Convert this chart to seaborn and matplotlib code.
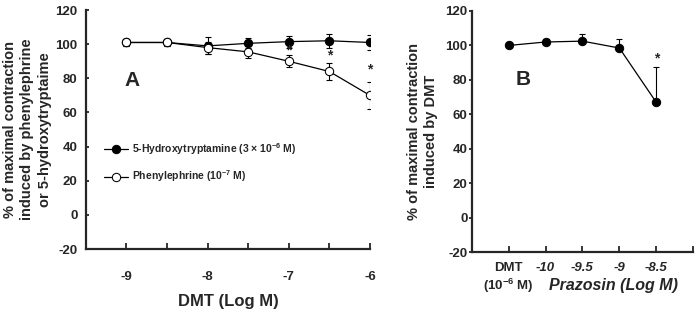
import matplotlib
matplotlib.use('Agg')
import matplotlib.pyplot as plt
import pandas as pd
import seaborn as sns

# Panel A: DMT concentration-response on pre-contracted tissue
log_dmt = [-9, -8.5, -8, -7.5, -7, -6.5, -6]
ht_mean = [101, 101, 99, 100.5, 101.5, 102, 101]
ht_err = [2, 2, 5, 3, 3.5, 4, 4.5]
phe_mean = [101, 101, 98, 95.5, 90, 84, 70]
phe_err = [2, 2, 3.5, 3.5, 3.5, 5, 8]
star_a_x = [-7, -6.5, -6]
star_a_y = [96.5, 93.5, 85]

# Panel B: DMT response with prazosin
b_labels = ['DMT\n(10$^{-6}$ M)', '-10', '-9.5', '-9', '-8.5']
b_mean = [100, 102, 102.5, 98.5, 67]
b_err = [1.5, 2, 4, 5, 20.5]
star_b_x = [5]
star_b_y = [92.5]

sns.set_style('ticks')
plt.rcParams['font.family'] = ['Liberation Sans', 'DejaVu Sans']
plt.rcParams['font.weight'] = 'bold'
plt.rcParams['axes.unicode_minus'] = False
plt.rcParams['mathtext.fontset'] = 'custom'
plt.rcParams['mathtext.rm'] = 'Liberation Sans:bold'
plt.rcParams['mathtext.it'] = 'Liberation Sans:italic:bold'
plt.rcParams['mathtext.bf'] = 'Liberation Sans:bold'

fig = plt.figure(figsize=(6.98, 3.14), dpi=100)
ax1 = fig.add_axes([0.123, 0.207, 0.407, 0.761])
ax2 = fig.add_axes([0.676, 0.197, 0.317, 0.768])

df_ht = pd.DataFrame({'x': log_dmt, 'y': ht_mean})
df_phe = pd.DataFrame({'x': log_dmt, 'y': phe_mean})

ax1.errorbar(log_dmt, ht_mean, yerr=ht_err, fmt='none', ecolor='black',
             elinewidth=0.8, capsize=2, capthick=0.8)
ax1.errorbar(log_dmt, phe_mean, yerr=phe_err, fmt='none', ecolor='black',
             elinewidth=0.8, capsize=2, capthick=0.8)
sns.lineplot(data=df_ht, x='x', y='y', ax=ax1, color='black', lw=0.9,
             marker='o', markersize=6, markerfacecolor='black',
             markeredgecolor='black', label='5-Hydroxytryptamine (3 \u00d7 10$^{-6}$ M)')
sns.lineplot(data=df_phe, x='x', y='y', ax=ax1, color='black', lw=0.9,
             marker='o', markersize=6, markerfacecolor='white',
             markeredgecolor='black', label='Phenylephrine (10$^{-7}$ M)')
for sx, sy in zip(star_a_x, star_a_y):
    ax1.text(sx, sy, '*', ha='center', va='center', fontsize=10, fontweight='bold')

ax1.set_xlim(-9.5, -6)
ax1.set_ylim(-20, 120)
ax1.set_yticks(range(-20, 121, 20))
ax1.set_xticks([-9, -8, -7, -6])
ax1.set_xticks([-8.5, -7.5, -6.5], minor=True)
ax1.tick_params(axis='x', which='both', direction='in', length=4, width=1.3,
                pad=16, labelsize=9.5)
ax1.tick_params(axis='y', direction='in', length=2, width=1.3, pad=6,
                labelsize=9.5)
ax1.set_xlabel('')
ax1.set_ylabel('')
ax1.text(0.5, -0.22, 'DMT (Log M)', transform=ax1.transAxes, ha='center',
         va='center', fontsize=12, fontweight='bold')
ax1.text(-0.206, 0.5, '% of maximal contraction\ninduced by phenylephrine\nor 5-hydroxytryptaime',
         transform=ax1.transAxes, rotation=90, ha='center', va='center',
         fontsize=10.5, fontweight='bold', multialignment='center',
         linespacing=1.3)
ax1.text(-8.93, 79, 'A', ha='center', va='center', fontsize=15, fontweight='bold')
ax1.legend(loc='upper left', bbox_to_anchor=(0.03, 0.49), frameon=False,
           handlelength=2.3, labelspacing=1.1, handletextpad=0.4,
           prop={'weight': 'bold', 'size': 7.5})

# Panel B
pos = list(range(1, len(b_mean) + 1))
df_b = pd.DataFrame({'x': pos, 'y': b_mean})
ax2.errorbar(pos, b_mean, yerr=[[0] * len(b_err), b_err], fmt='none',
             ecolor='black', elinewidth=0.8, capsize=2, capthick=0.8)
sns.lineplot(data=df_b, x='x', y='y', ax=ax2, color='black', lw=0.9,
             marker='o', markersize=6, markerfacecolor='black',
             markeredgecolor='black')
for sx, sy in zip(star_b_x, star_b_y):
    ax2.text(sx, sy, '*', ha='center', va='center', fontsize=10, fontweight='bold')

ax2.set_xlim(0, 6)
ax2.set_ylim(-20, 120)
ax2.set_yticks(range(-20, 121, 20))
ax2.set_xticks(pos + [6])
ax2.set_xticklabels(b_labels + [''])
for lbl in ax2.get_xticklabels()[1:]:
    lbl.set_style('italic')
ax2.tick_params(axis='x', direction='in', length=4, width=1.3, pad=7,
                labelsize=9.5)
ax2.tick_params(axis='y', direction='out', length=2, width=1.3, pad=1,
                labelsize=9.5)
ax2.set_xlabel('')
ax2.set_ylabel('')
ax2.text(0.64, -0.14, 'Prazosin (Log M)', transform=ax2.transAxes, ha='center',
         va='center', fontsize=11.5, fontweight='bold', style='italic')
ax2.text(-0.222, 0.5, '% of maximal contraction\ninduced by DMT',
         transform=ax2.transAxes, rotation=90, ha='center', va='center',
         fontsize=10.5, fontweight='bold', multialignment='center',
         linespacing=1.3)
ax2.text(1.4, 80, 'B', ha='center', va='center', fontsize=15, fontweight='bold')

for ax in (ax1, ax2):
    sns.despine(ax=ax)
    ax.spines['left'].set_linewidth(1.6)
    ax.spines['bottom'].set_linewidth(1.6)

fig.savefig('out.png', dpi=100)
